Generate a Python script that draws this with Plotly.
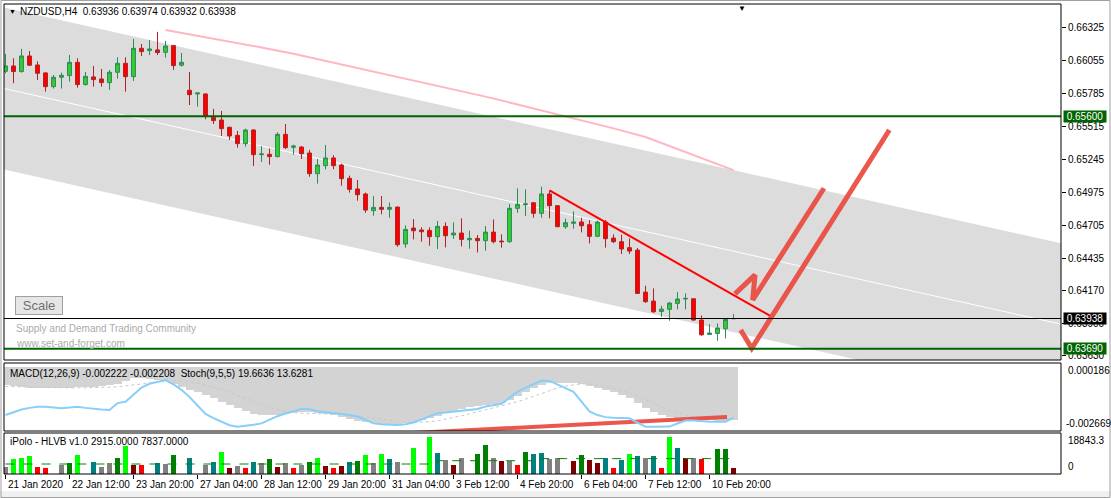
import plotly.graph_objects as go

# ------------------------------------------------------------------ data
bars = list(range(92))
open_ = [0.65969,0.66013,0.65967,0.66095,0.66021,0.65956,0.65843,0.65920,0.65934,0.66043,
         0.65860,0.65923,0.65906,0.65876,0.65961,0.66035,0.65925,0.66158,0.66139,0.66145,
         0.66125,0.66180,0.66019,0.65813,0.65783,0.65783,0.65591,0.65569,0.65509,0.65443,
         0.65375,0.65487,0.65284,0.65287,0.65268,0.65451,0.65345,0.65347,0.65298,0.65128,
         0.65194,0.65257,0.65199,0.65090,0.65002,0.64961,0.64824,0.64851,0.64835,0.64854,
         0.64550,0.64681,0.64665,0.64662,0.64610,0.64695,0.64624,0.64640,0.64585,0.64596,
         0.64577,0.64648,0.64574,0.64569,0.64843,0.64873,0.64889,0.64802,0.64961,0.64865,
         0.64692,0.64720,0.64731,0.64709,0.64613,0.64731,0.64599,0.64569,0.64520,0.64500,
         0.64155,0.64081,0.63996,0.64013,0.64062,0.64098,0.64100,0.63925,0.63807,0.63815,
         0.63854,0.63936]
high = [0.66112,0.66076,0.66153,0.66136,0.66051,0.65960,0.65939,0.65958,0.66103,0.66076,
        0.65964,0.66013,0.65988,0.65980,0.66084,0.66084,0.66235,0.66194,0.66227,0.66293,
        0.66219,0.66186,0.66120,0.65964,0.65793,0.65788,0.65660,0.65643,0.65514,0.65479,
        0.65498,0.65492,0.65355,0.65334,0.65468,0.65536,0.65366,0.65353,0.65323,0.65249,
        0.65364,0.65279,0.65210,0.65112,0.65076,0.64972,0.64944,0.64944,0.64892,0.64856,
        0.64703,0.64755,0.64687,0.64687,0.64739,0.64728,0.64728,0.64761,0.64659,0.64624,
        0.64698,0.64752,0.64629,0.64879,0.65007,0.64999,0.64895,0.65021,0.64988,0.64870,
        0.64758,0.64818,0.64766,0.64747,0.64742,0.64747,0.64629,0.64626,0.64596,0.64517,
        0.64207,0.64185,0.64043,0.64073,0.64155,0.64144,0.64100,0.63963,0.63892,0.63898,
        0.63936,0.63974]
low = [0.65953,0.65871,0.65958,0.66013,0.65898,0.65802,0.65827,0.65827,0.65884,0.65835,
       0.65851,0.65843,0.65843,0.65816,0.65909,0.65802,0.65890,0.66095,0.66103,0.66103,
       0.66082,0.65980,0.66008,0.65692,0.65679,0.65575,0.65536,0.65438,0.65405,0.65342,
       0.65350,0.65191,0.65224,0.65202,0.65262,0.65331,0.65284,0.65249,0.65103,0.65046,
       0.65164,0.65164,0.65029,0.64972,0.64906,0.64807,0.64783,0.64794,0.64766,0.64528,
       0.64520,0.64588,0.64569,0.64536,0.64509,0.64522,0.64591,0.64531,0.64511,0.64481,
       0.64495,0.64555,0.64520,0.64561,0.64807,0.64780,0.64766,0.64766,0.64761,0.64690,
       0.64676,0.64676,0.64646,0.64555,0.64610,0.64520,0.64558,0.64468,0.64468,0.64139,
       0.64067,0.63985,0.63952,0.63920,0.64013,0.64013,0.63920,0.63796,0.63807,0.63755,
       0.63774,0.63932]
close = [0.66013,0.65967,0.66095,0.66019,0.65953,0.65843,0.65920,0.65936,0.66043,0.65860,
         0.65928,0.65901,0.65876,0.65961,0.66035,0.65925,0.66158,0.66131,0.66153,0.66123,
         0.66177,0.66016,0.66043,0.65777,0.65791,0.65602,0.65564,0.65498,0.65438,0.65375,
         0.65487,0.65284,0.65290,0.65268,0.65451,0.65342,0.65355,0.65292,0.65128,0.65199,
         0.65257,0.65194,0.65087,0.64999,0.64955,0.64829,0.64851,0.64835,0.64851,0.64544,
         0.64670,0.64659,0.64651,0.64610,0.64695,0.64618,0.64640,0.64588,0.64596,0.64577,
         0.64648,0.64569,0.64569,0.64843,0.64876,0.64879,0.64802,0.64961,0.64865,0.64692,
         0.64725,0.64731,0.64700,0.64613,0.64731,0.64594,0.64569,0.64509,0.64492,0.64144,
         0.64076,0.63993,0.64015,0.64065,0.64098,0.64103,0.63925,0.63804,0.63818,0.63859,
         0.63930,0.63938]

time_tick_bars = [0, 8, 16, 24, 32, 40, 48, 56, 64, 72, 80, 88]
time_tick_labels = ["21 Jan 2020", "22 Jan 12:00", "23 Jan 20:00", "27 Jan 04:00",
                    "28 Jan 12:00", "29 Jan 20:00", "31 Jan 04:00", "3 Feb 12:00",
                    "4 Feb 20:00", "6 Feb 04:00", "7 Feb 12:00", "10 Feb 20:00"]
price_ticks = [0.66325, 0.66055, 0.65785, 0.65515, 0.65245, 0.64975, 0.64705,
               0.64435, 0.64170, 0.63900, 0.63630]
price_range = [0.63597, 0.66522]
bar_range = [-0.1875, 131.9375]

level_lines = [0.65600, 0.63690]

# regression channel (ray) endpoints
channel_bars = [-2, 134]
channel_mid = [0.65854, 0.63861]
channel_upper = [0.66519, 0.64526]
channel_lower = [0.65189, 0.63196]

# moving average (pink)
ma_bars = [20, 24, 28, 32, 36, 40, 44, 48, 52, 56, 60, 64, 68, 72, 76, 80, 84, 88, 91]
ma_vals = [0.66309, 0.66262, 0.66215, 0.66165, 0.66114, 0.66056, 0.65997, 0.65938,
           0.65879, 0.65820, 0.65761, 0.65697, 0.65632, 0.65566, 0.65500, 0.65429,
           0.65330, 0.65231, 0.65157]

# drawn objects
trend_bars = [68, 95.6]
trend_vals = [0.64990, 0.63959]
arrow_n_bars = [91.19, 93.69, 93.4, 102.31]
arrow_n_vals = [0.64140, 0.64296, 0.64090, 0.65008]
arrow_v_bars = [91.9, 93.28, 110.48]
arrow_v_vals = [0.63844, 0.63693, 0.65487]
macd_trend_bars = [50.94, 90.19]
macd_trend_vals = [-0.002754, -0.002083]

# MACD(12,26,9)
macd = [-0.000739,-0.000781,-0.000823,-0.000865,-0.000865,-0.000865,-0.000865,-0.000865,
        -0.000865,-0.000823,-0.000823,-0.000823,-0.000781,-0.000739,-0.000697,-0.000571,
        -0.000445,-0.000445,-0.000487,-0.000529,-0.000571,-0.000697,-0.000823,-0.000949,
        -0.001033,-0.001159,-0.001285,-0.001453,-0.001579,-0.001705,-0.001831,-0.001957,
        -0.001999,-0.001999,-0.001999,-0.001957,-0.001915,-0.001873,-0.001873,-0.001915,
        -0.001957,-0.001999,-0.002083,-0.002167,-0.002251,-0.002293,-0.002335,-0.002377,
        -0.002377,-0.002377,-0.002335,-0.002293,-0.002209,-0.002125,-0.002041,-0.001915,
        -0.001831,-0.001747,-0.001663,-0.001621,-0.001579,-0.001537,-0.001495,-0.001369,
        -0.001201,-0.001033,-0.000865,-0.000739,-0.000655,-0.000655,-0.000655,-0.000655,
        -0.000697,-0.000781,-0.000865,-0.000949,-0.001033,-0.001159,-0.001285,-0.001495,
        -0.001705,-0.001873,-0.001999,-0.002083,-0.002125,-0.002125,-0.002125,-0.002167,
        -0.002209,-0.002251,-0.002251,-0.002222]
macd_signal = [-0.00080,-0.00081,-0.00082,-0.00083,-0.00084,-0.00085,-0.00085,-0.00086,
               -0.00086,-0.00086,-0.00085,-0.00085,-0.00084,-0.00083,-0.00081,-0.00078,
               -0.00074,-0.00070,-0.00066,-0.00062,-0.00058,-0.00056,-0.00057,-0.00061,
               -0.00066,-0.00073,-0.00082,-0.00093,-0.00105,-0.00118,-0.00131,-0.00144,
               -0.00156,-0.00167,-0.00176,-0.00183,-0.00189,-0.00192,-0.00194,-0.00195,
               -0.00195,-0.00195,-0.00196,-0.00199,-0.00203,-0.00208,-0.00213,-0.00219,
               -0.00224,-0.00228,-0.00231,-0.00232,-0.00231,-0.00228,-0.00224,-0.00218,
               -0.00211,-0.00203,-0.00195,-0.00187,-0.00179,-0.00171,-0.00163,-0.00154,
               -0.00144,-0.00133,-0.00121,-0.00108,-0.00096,-0.00086,-0.00078,-0.00072,
               -0.00069,-0.00070,-0.00074,-0.00080,-0.00088,-0.00097,-0.00108,-0.00121,
               -0.00136,-0.00152,-0.00167,-0.00180,-0.00191,-0.00200,-0.00206,-0.00211,
               -0.00215,-0.00218,-0.00220,-0.002208]
macd_range = [-0.002669, 0.000186]

# Stoch(9,5,5) main
stoch = [23.5,28,31.5,34,35.8,35.8,35,33.5,34.5,35.8,34,32.5,31.5,31,41,43,54,64,69.5,72,
         75,68.5,60.5,50,37,25,19,13.5,8.5,6.3,7.2,9.2,11.2,16.5,21.8,25.7,29.2,32.5,32,29,
         27.7,26.7,25.3,23.3,21.3,16.5,11.2,9.9,8.8,8.8,9.8,12.6,17,22,26.2,27.1,28.2,29.4,
         30.8,32.4,35.9,38,40,48.9,57.8,63.4,68.3,74.1,73.6,68.8,63,57.6,43,28.9,23.4,20.4,
         19.5,18.6,18.6,12.4,6.3,6.3,6.3,6.5,11.1,15.4,15.5,14.5,13.7,13.7,13.7,19.6636]
stoch_signal_last = 13.6281

# iPolo - HLVB volume
volume = [3718,7641,8150,9169,3396,2886,None,4584,5434,9678,None,6113,3718,5434,8150,14262,
          4584,4584,None,5434,5264,9678,None,8150,None,4584,5943,11207,3226,4245,3056,5943,
          5434,7471,3566,5434,3056,4584,5943,7981,4075,3056,4075,5943,6452,9678,5434,10188,
          7641,6113,None,13244,None,18843,10697,7132,4755,8150,None,10188,14773,8150,6793,
          6793,4755,11207,10188,10697,7641,8150,None,6622,9679,7132,5603,8150,3056,7132,
          10188,9169,8150,9169,3056,18843,13244,8150,8150,7641,None,12735,12735,2915]
volume_class = ["grey","lime","lime","lime","red","red",None,"grey","green","lime",None,"teal",
                "grey","grey","green","lime","darkred","red",None,"teal","grey","green",None,
                "teal",None,"grey","teal","lime","darkred","grey","red","teal","grey","green",
                "darkred","grey","red","grey","green","lime","darkred","red","darkred","teal",
                "green","lime","grey","lime","teal","grey",None,"lime",None,"lime","teal","grey",
                "darkred","grey",None,"green","green","grey","darkred","grey","red","green",
                "teal","teal","grey","grey",None,"darkred","green","darkred","darkred","teal",
                "red","teal","lime","teal","grey","teal","red","lime","teal","darkred","grey",
                "red",None,"green","green","darkred"]
volume_avg = [5094] * 54 + [6775] * 13 + [7837] * 25
volume_max_label = 18843.3
volume_range = [0, 20886]

# ------------------------------------------------------------------ styling
W, H = 1111, 498
FONT = "Liberation Sans, Arial, sans-serif"
vol_palette = {"grey": "#808080", "lime": "#00FF00", "green": "#008000", "teal": "#008080",
               "red": "#FF0000", "darkred": "#800000"}
ARROW = "rgba(233,72,62,0.92)"


def py(p):
    """pixel row (from top) -> paper fraction"""
    return 1 - p / H


x_dom = [4 / W, 1061 / W]
main_dom = [py(360), py(4)]
macd_dom = [py(431), py(363)]
vol_dom = [py(474), py(433)]

fig = go.Figure()

# moving average
fig.add_trace(go.Scatter(x=ma_bars, y=ma_vals, mode="lines",
                         line=dict(color="#FFB6C1", width=2), xaxis="x", yaxis="y"))
# candles
fig.add_trace(go.Candlestick(x=bars, open=open_, high=high, low=low, close=close,
                             increasing=dict(fillcolor="#32CD32", line=dict(color="#2E8B57", width=1)),
                             decreasing=dict(fillcolor="#FF0000", line=dict(color="#B22222", width=1)),
                             whiskerwidth=0, xaxis="x", yaxis="y"))
# trendline and arrows
fig.add_trace(go.Scatter(x=trend_bars, y=trend_vals, mode="lines",
                         line=dict(color="#FF0000", width=2), xaxis="x", yaxis="y"))
for xs, ys in [(arrow_n_bars, arrow_n_vals), (arrow_v_bars, arrow_v_vals)]:
    fig.add_trace(go.Scatter(x=xs, y=ys, mode="lines",
                             line=dict(color=ARROW, width=5), xaxis="x", yaxis="y"))

# MACD histogram + signal + stoch
fig.add_trace(go.Bar(x=bars, y=macd, width=1.0, marker=dict(color="#D3D3D3", line=dict(width=0)),
                     xaxis="x", yaxis="y2"))
fig.add_trace(go.Scatter(x=bars, y=macd_signal, mode="lines",
                         line=dict(color="#C8C8C8", width=1, dash="dot"), xaxis="x", yaxis="y2"))
fig.add_trace(go.Scatter(x=bars, y=stoch, mode="lines",
                         line=dict(color="#87CEFA", width=2), xaxis="x", yaxis="y3"))
fig.add_trace(go.Scatter(x=macd_trend_bars, y=macd_trend_vals, mode="lines",
                         line=dict(color=ARROW, width=4), xaxis="x", yaxis="y2"))

# volume
fig.add_trace(go.Bar(x=bars, y=volume, width=0.62,
                     marker=dict(color=[vol_palette.get(c, "white") if c else "white" for c in volume_class],
                                 line=dict(width=0)),
                     xaxis="x", yaxis="y4"))
fig.add_trace(go.Scatter(x=bars, y=volume_avg, mode="lines", line_shape="hv",
                         line=dict(color="#008000", width=1, dash="dash"), xaxis="x", yaxis="y4"))

shapes = []
# channel drawn beneath the candles
chan_path = (f"M {channel_bars[0]},{channel_upper[0]} L {channel_bars[1]},{channel_upper[1]} "
             f"L {channel_bars[1]},{channel_lower[1]} L {channel_bars[0]},{channel_lower[0]} Z")
shapes.append(dict(type="path", path=chan_path, xref="x", yref="y", layer="below",
                   fillcolor="#DCDCDC", line=dict(width=0)))
shapes.append(dict(type="line", xref="x", yref="y", layer="below",
                   x0=channel_bars[0], x1=channel_bars[1], y0=channel_mid[0], y1=channel_mid[1],
                   line=dict(color="white", width=1)))
# level lines
for lv in level_lines:
    shapes.append(dict(type="line", xref="x domain", x0=0, x1=1, yref="y", y0=lv, y1=lv,
                       line=dict(color="#006400", width=2)))
shapes.append(dict(type="line", xref="x domain", x0=0, x1=1, yref="y", y0=close[-1], y1=close[-1],
                   line=dict(color="black", width=1)))
# panel frames
for ya in ["y", "y2", "y4"]:
    shapes.append(dict(type="rect", xref="x domain", yref=ya + " domain", x0=0, x1=1, y0=0, y1=1,
                       line=dict(color="black", width=1), fillcolor="rgba(0,0,0,0)"))
# window frame and bottom strip
shapes.append(dict(type="rect", xref="paper", yref="paper", x0=0, x1=1, y0=0, y1=py(491),
                   line=dict(width=0), fillcolor="#F0F0F0", layer="below"))
shapes.append(dict(type="rect", xref="paper", yref="paper", x0=0.0009, x1=0.9991, y0=0.001, y1=0.999,
                   line=dict(color="#A0A0A0", width=1), fillcolor="rgba(0,0,0,0)"))

ann = []
# header texts
ann.append(dict(text="▼", xref="paper", yref="paper", x=7 / W, y=py(12), xanchor="left",
                yanchor="middle", showarrow=False, font=dict(size=7, color="black", family=FONT)))
ann.append(dict(text=f"NZDUSD,H4  {open_[-1]:.5f} {high[-1]:.5f} {low[-1]:.5f} {close[-1]:.5f}",
                xref="paper", yref="paper", x=18 / W, y=py(12), xanchor="left", yanchor="middle",
                showarrow=False, font=dict(size=10, color="black", family=FONT)))
ann.append(dict(text=f"MACD(12,26,9) {macd[-1]:.6f} {macd_signal[-1]:.6f}  Stoch(9,5,5) "
                     f"{stoch[-1]:.4f} {stoch_signal_last:.4f}",
                xref="paper", yref="paper", x=8 / W, y=py(373), xanchor="left", yanchor="middle",
                showarrow=False, font=dict(size=10, color="black", family=FONT)))
ann.append(dict(text=f"iPolo - HLVB v1.0 {volume[-1]:.4f} {volume_avg[-1]:.4f}",
                xref="paper", yref="paper", x=8 / W, y=py(441), xanchor="left", yanchor="middle",
                showarrow=False, font=dict(size=10, color="black", family=FONT)))
# chart shift marker
ann.append(dict(text="▼", xref="x", yref="y domain", x=92, y=1.0, xanchor="center",
                yanchor="top", showarrow=False, yshift=2, font=dict(size=8, color="black")))
# watermark + scale button
ann.append(dict(text="Scale", xref="paper", yref="paper", x=15 / W, y=py(305), xanchor="left",
                yanchor="middle", showarrow=False, bgcolor="#E6E6E6", bordercolor="#A0A0A0",
                borderwidth=1, borderpad=1, width=44,
                font=dict(size=13, color="#707070", family=FONT)))
ann.append(dict(text="Supply and Demand Trading Community", xref="paper", yref="paper",
                x=14 / W, y=py(328), xanchor="left", yanchor="middle", showarrow=False,
                font=dict(size=10, color="#ABABAB", family=FONT)))
ann.append(dict(text="www.set-and-forget.com", xref="paper", yref="paper",
                x=14 / W, y=py(343), xanchor="left", yanchor="middle", showarrow=False,
                font=dict(size=10, color="#ABABAB", family=FONT)))
# price boxes
for val, bg in [(level_lines[0], "#006400"), (close[-1], "#000000"), (level_lines[1], "#006400")]:
    ann.append(dict(text=f"{val:.5f}", xref="paper", yref="y", x=1063 / W, y=val,
                    xanchor="left", yanchor="middle", showarrow=False, bgcolor=bg, width=42,
                    borderpad=0, font=dict(size=10, color="white", family=FONT)))
# MACD scale labels
ann.append(dict(text=f"{macd_range[1]:.6f}", xref="paper", yref="y2 domain", x=1066 / W, y=1,
                xanchor="left", yanchor="top", showarrow=False,
                font=dict(size=10, color="black", family=FONT)))
ann.append(dict(text=f"{macd_range[0]:.6f}", xref="paper", yref="y2 domain", x=1064 / W, y=0,
                xanchor="left", yanchor="bottom", showarrow=False,
                font=dict(size=10, color="black", family=FONT)))
# volume scale labels
ann.append(dict(text=f"{volume_max_label}", xref="paper", yref="y4", x=1066 / W, y=volume_max_label,
                xanchor="left", yanchor="top", showarrow=False, yshift=4,
                font=dict(size=10, color="black", family=FONT)))
ann.append(dict(text="0", xref="paper", yref="y4", x=1066 / W, y=0,
                xanchor="left", yanchor="bottom", showarrow=False,
                font=dict(size=10, color="black", family=FONT)))
# time labels
for b, t in zip(time_tick_bars, time_tick_labels):
    ann.append(dict(text=t, xref="x", yref="paper", x=b, y=py(484), xanchor="left",
                    yanchor="middle", showarrow=False, xshift=0,
                    font=dict(size=10, color="black", family=FONT)))

fig.update_layout(
    width=W, height=H, autosize=False,
    margin=dict(l=0, r=0, t=0, b=0),
    paper_bgcolor="white", plot_bgcolor="white",
    showlegend=False, barmode="overlay", bargap=0, boxgap=0.3,
    font=dict(family=FONT, size=10, color="black"),
    xaxis=dict(domain=x_dom, range=bar_range, anchor="y4", tickvals=time_tick_bars,
               showticklabels=False, ticks="outside", ticklen=4, tickcolor="black",
               showgrid=False, zeroline=False, showline=False, rangeslider=dict(visible=False),
               fixedrange=True),
    yaxis=dict(domain=main_dom, range=price_range, side="right", anchor="x",
               tickvals=price_ticks, ticktext=[f"{p:.5f}" for p in price_ticks],
               ticks="outside", ticklen=4, tickcolor="black", showgrid=False, zeroline=False,
               showline=False, tickfont=dict(size=10, family=FONT)),
    yaxis2=dict(domain=macd_dom, range=macd_range, anchor="x", showticklabels=False,
                showgrid=False, zeroline=False, showline=False, ticks=""),
    yaxis3=dict(overlaying="y2", range=[0, 100], anchor="x", visible=False),
    yaxis4=dict(domain=vol_dom, range=volume_range, anchor="x", showticklabels=False,
                showgrid=False, zeroline=False, showline=False, ticks=""),
    shapes=shapes, annotations=ann,
)

fig.write_html("out.html", config={"displayModeBar": False},
               post_script="document.body.style.margin='0px';document.body.style.padding='0px';")
